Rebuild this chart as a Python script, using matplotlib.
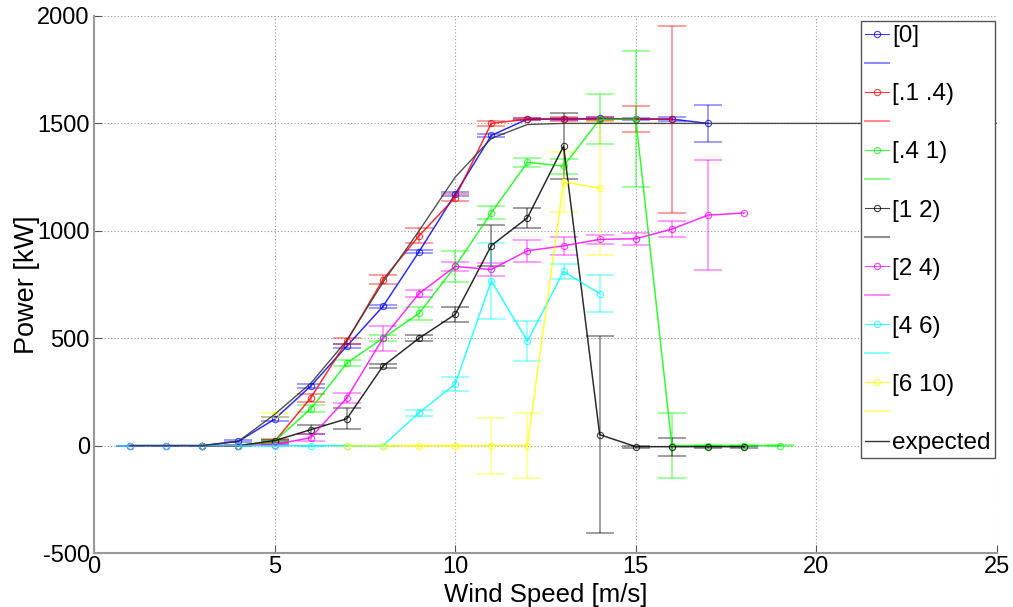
import numpy as np
import matplotlib
matplotlib.use("Agg")
import matplotlib.pyplot as plt
from matplotlib.lines import Line2D

nan = np.nan
wind = [1, 2, 3, 4, 5, 6, 7, 8, 9, 10, 11, 12, 13, 14, 15, 16, 17, 18, 19]

p_0 = [0, 0, 0, 20, 123, 277, 463, 648, 903, 1171, 1444, 1520, 1520, 1523, 1520, 1520, 1500, nan, nan]
e_0 = [0, 0, 0, 5, 8, 8, 8, 8, 8, 10, 8, 5, 5, 6, 6, 8, 85, nan, nan]

p_1 = [nan, nan, 0, 0, 19, 222, 486, 773, 977, 1155, 1500, 1520, 1520, 1520, 1520, 1520, nan, nan, nan]
e_1 = [nan, nan, 0, 3, 10, 19, 15, 21, 35, 15, 12, 6, 8, 8, 62, 435, nan, nan, nan]

p_2 = [nan, nan, 0, 0, 20, 171, 384, 500, 616, 834, 1084, 1319, 1301, 1519, 1520, 0, 0, 0, 0]
e_2 = [nan, nan, 0, 0, 8, 16, 15, 15, 30, 74, 30, 20, 35, 116, 317, 153, 3, 3, 3]

p_3 = [nan, nan, 0, 0, 23, 74, 125, 370, 500, 611, 931, 1061, 1394, 51, -5, -5, -5, -5, nan]
e_3 = [nan, nan, 0, 0, 5, 21, 48, 10, 14, 36, 95, 47, 155, 458, 5, 42, 5, 5, nan]

p_4 = [0, 0, 0, 0, 5, 37, 222, 500, 708, 834, 820, 907, 930, 960, 963, 1008, 1073, 1083, nan]
e_4 = [0, 0, 0, 0, 3, 17, 25, 58, 17, 23, 32, 51, 42, 20, 28, 37, 255, nan, nan]

p_5 = [0, 0, 0, 0, 0, 0, 0, 0, 153, 287, 767, 486, 811, 708, nan, nan, nan, nan, nan]
e_5 = [0, 0, 0, 0, 0, 0, 0, 0, 14, 32, 176, 93, 35, 86, nan, nan, nan, nan, nan]

p_6 = [nan, nan, nan, nan, 143, nan, 0, 0, 0, 0, 0, 0, 1227, 1199, nan, nan, nan, nan, nan]
e_6 = [nan, nan, nan, nan, 10, nan, 0, 0, 0, 0, 130, 153, 139, 310, nan, nan, nan, nan, nan]

exp_x = [1, 2, 3, 4, 5, 6, 7, 8, 9, 10, 11, 12, 13, 14, 15, 16, 17, 18, 19, 20, 21, 22, 23, 24, 25]
exp_y = [0, 0, 0, 20, 145, 290, 490, 760, 1000, 1250, 1430, 1495, 1500, 1500, 1500, 1500, 1500,
         1500, 1500, 1500, 1500, 1500, 1500, 1500, 1500]

labels = ["[0]", "[.1 .4)", "[.4 1)", "[1 2)", "[2 4)", "[4 6)", "[6 10)"]
colors = ["#0000ff", "#ff0000", "#00ff00", "#000000", "#ff00ff", "#00ffff", "#ffff00"]
series = [(p_0, e_0), (p_1, e_1), (p_2, e_2), (p_3, e_3), (p_4, e_4), (p_5, e_5), (p_6, e_6)]

plt.rcParams['font.family'] = ['Liberation Sans', 'DejaVu Sans']
plt.rcParams['axes.unicode_minus'] = False

fig = plt.figure(figsize=(10.13, 6.07), dpi=100)
ax = fig.add_axes([94/1013, 54/607, 903/1013, 537/607])

handles = []
hlabels = []
for (p, e), c, lab in zip(series, colors, labels):
    ax.plot(wind, p, '-o', color=c, lw=0.8, ms=4.5, mfc='none', mew=0.8, alpha=0.75, zorder=3)
    ax.errorbar(wind, p, yerr=e, fmt='-', color=c, lw=1.2, alpha=0.45, capsize=10,
                capthick=1.2, elinewidth=1.2, zorder=2)
    handles.append(Line2D([], [], color=c, lw=0.8, marker='o', ms=4.5, mfc='none', mew=0.8, alpha=0.75))
    hlabels.append(lab)
    handles.append(Line2D([], [], color=c, lw=1.5, alpha=0.45))
    hlabels.append(" ")

ax.plot(exp_x, exp_y, '-', color='#333333', lw=1.0, alpha=0.85, zorder=4)
handles.append(Line2D([], [], color='#333333', lw=1.0))
hlabels.append("expected")

ax.set_xlim(0, 25)
ax.set_ylim(-500, 2000)
ax.set_xticks([0, 5, 10, 15, 20, 25])
ax.set_yticks([-500, 0, 500, 1000, 1500, 2000])
ax.grid(True, linestyle=(0, (1, 2)), color='#999999', lw=0.8)
for s in ['top', 'right']:
    ax.spines[s].set_visible(False)
for s in ['left', 'bottom']:
    ax.spines[s].set_color('#999999')
    ax.spines[s].set_linewidth(1.5)
ax.tick_params(direction='in', length=6, color='#555555', labelsize=17)
ax.tick_params(axis='x', pad=2)
ax.tick_params(axis='y', pad=3)
fig.text((94 + 903 * 0.5) / 1013, 0, "Wind Speed [m/s]", fontsize=18.5,
         ha='center', va='bottom')
ax.set_ylabel("Power [kW]", fontsize=19.5, labelpad=-2)

leg = ax.legend(handles, hlabels, loc='upper right', bbox_to_anchor=(0.9978, (553 - 21) / 537),
                fontsize=17.5, handlelength=1.0, handletextpad=0.12, labelspacing=0.29,
                borderpad=0.17, borderaxespad=0, fancybox=False, framealpha=1)
leg.get_frame().set_edgecolor('#555555')
leg.get_frame().set_linewidth(1.0)
leg.set_zorder(10)

fig.savefig("out.png", dpi=100)
